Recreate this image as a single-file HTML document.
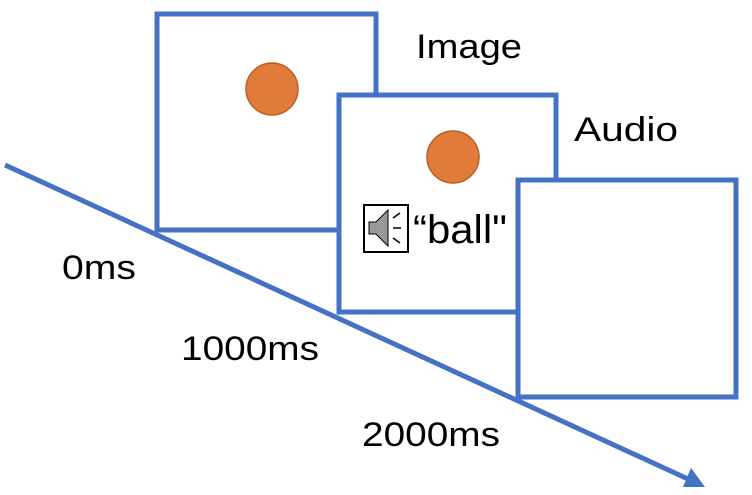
<!DOCTYPE html>
<html><head><style>body{margin:0;background:#fff}svg{display:block}</style></head>
<body>
<svg width="752" height="495" viewBox="0 0 752 495" xmlns="http://www.w3.org/2000/svg" font-family="Liberation Sans, sans-serif">
<line x1="5" y1="165" x2="688" y2="479" stroke="#4472C4" stroke-width="5"/>
<polygon points="705,487 691,468 683,487" fill="#4472C4"/>
<rect x="157" y="14" width="219" height="216" fill="#fff" stroke="#4472C4" stroke-width="5"/>
<circle cx="272" cy="89" r="26" fill="#E07B39" stroke="#B85F25" stroke-width="1.5"/>
<rect x="339" y="95" width="217" height="217" fill="#fff" stroke="#4472C4" stroke-width="5"/>
<circle cx="453" cy="157" r="26" fill="#E07B39" stroke="#B85F25" stroke-width="1.5"/>
<rect x="518" y="180" width="218" height="217" fill="#fff" stroke="#4472C4" stroke-width="5"/>
<rect x="364" y="205" width="44" height="47" fill="#fff" stroke="#000" stroke-width="2"/>
<polygon points="369,222 376,222 388,210 388,246 376,234 369,234" fill="#999" stroke="#000" stroke-width="1"/>
<line x1="393" y1="218" x2="400" y2="213" stroke="#000" stroke-width="1.5"/>
<line x1="393" y1="228" x2="401" y2="228" stroke="#000" stroke-width="1.5"/>
<line x1="393" y1="238" x2="400" y2="243" stroke="#000" stroke-width="1.5"/>
<text x="413" y="243" font-size="40" textLength="94" lengthAdjust="spacingAndGlyphs">“ball"</text>
<text x="416" y="58" font-size="34" textLength="106" lengthAdjust="spacingAndGlyphs">Image</text>
<text x="574" y="141" font-size="34" textLength="104" lengthAdjust="spacingAndGlyphs">Audio</text>
<text x="62" y="279" font-size="34" textLength="74" lengthAdjust="spacingAndGlyphs">0ms</text>
<text x="181" y="360" font-size="34" textLength="138" lengthAdjust="spacingAndGlyphs">1000ms</text>
<text x="362" y="446" font-size="34" textLength="138" lengthAdjust="spacingAndGlyphs">2000ms</text>
</svg>
</body></html>
